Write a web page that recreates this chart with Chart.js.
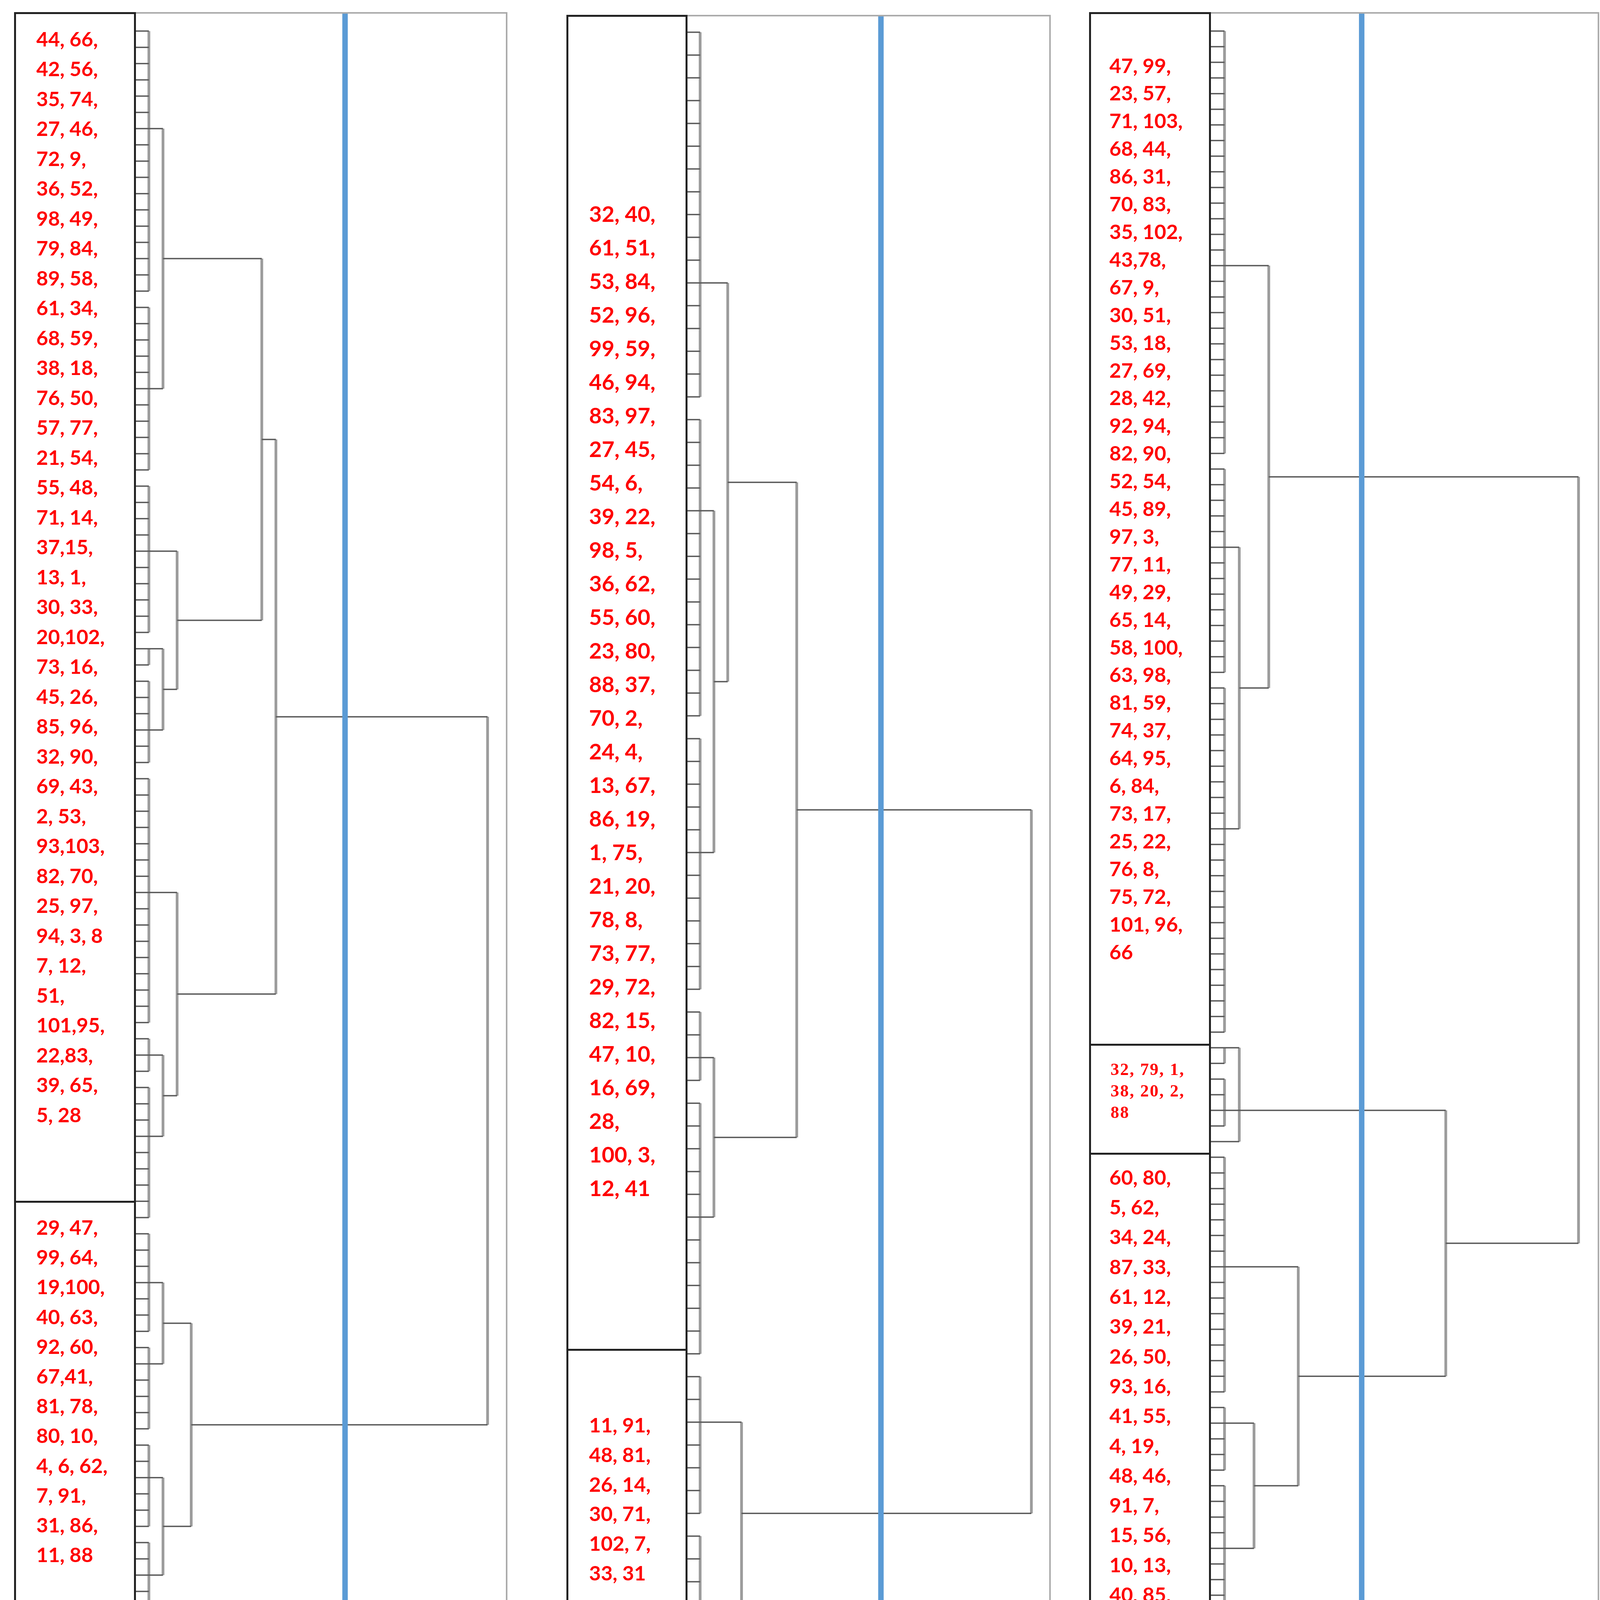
<!DOCTYPE html>
<html>
<head>
<meta charset="utf-8">
<script src="https://cdn.jsdelivr.net/npm/chart.js"></script>
<style>
  body { margin: 0; background: #fff; }
  #page { position: relative; width: 4135px; height: 4451px; overflow: hidden; background: #fff; }
  canvas { position: absolute; }
  .frame { position: absolute; box-sizing: border-box; border: 4px solid #ababab; }
  .box { position: absolute; box-sizing: border-box; border: 5px solid #222; }
  .labels { position: absolute; color: #ff0000; white-space: pre; }
  .name { position: absolute; font-family: "Liberation Serif", serif; font-size: 72px; color: #222; transform: translate(-50%, -50%); }
</style>
</head>
<body>
<div id="page"></div>
<script>
// leaf groups joined at the first level (top to bottom), and the leaf where each group's link leaves
const aGroupSizes = [17, 11, 10, 2, 6, 16, 3, 9, 7, 6, 6, 6];
const aGroupJoins = [6, 5, 4, 0, 3, 7, 1, 3, 3, 1, 2, 2];
// [node, node, rescaled distance] - node ids after the groups are earlier merges
const aMerges = [[0, 1, 2], [3, 4, 2], [2, 13, 3], [12, 14, 9], [6, 7, 2], [5, 16, 3],
                 [15, 17, 10], [8, 9, 2], [10, 11, 2], [19, 20, 4], [18, 21, 25]];
const aCut = 14.9;

const bGroupSizes = [17, 14, 12, 4, 12, 7, 5];
const bGroupJoins = [11, 4, 5, 2, 5, 2, 3];
const bMerges = [[1, 2, 2], [0, 7, 3], [3, 4, 2], [8, 9, 8], [5, 6, 4], [10, 11, 25]];
const bCut = 14.1;

const cGroupSizes = [28, 14, 23, 2, 4, 1, 16, 5, 10];
const cGroupJoins = [15, 5, 9, 0, 2, 0, 7, 1, 4];
const cMerges = [[1, 2, 2], [0, 9, 4], [3, 4, 2], [11, 5, 2], [7, 8, 3], [6, 13, 6],
                 [12, 14, 16], [10, 15, 25]];
const cCut = 10.3;

const aTopLabels = ["44, 66,", "42, 56,", "35, 74,", "27, 46,", "72, 9,", "36, 52,", "98, 49,", "79, 84,",
  "89, 58,", "61, 34,", "68, 59,", "38, 18,", "76, 50,", "57, 77,", "21, 54,", "55, 48,", "71, 14,",
  "37,15,", "13, 1,", "30, 33,", "20,102,", "73, 16,", "45, 26,", "85, 96,", "32, 90,", "69, 43,",
  "2, 53,", "93,103,", "82, 70,", "25, 97,", "94, 3, 8", "7, 12,", "51,", "101,95,", "22,83,",
  "39, 65,", "5, 28"];
const aBottomLabels = ["29, 47,", "99, 64,", "19,100,", "40, 63,", "92, 60,", "67,41,", "81, 78,",
  "80, 10,", "4, 6, 62,", "7, 91,", "31, 86,", "11, 88"];
const bTopLabels = ["32, 40,", "61, 51,", "53, 84,", "52, 96,", "99, 59,", "46, 94,", "83, 97,",
  "27, 45,", "54, 6,", "39, 22,", "98, 5,", "36, 62,", "55, 60,", "23, 80,", "88, 37,", "70, 2,",
  "24, 4,", "13, 67,", "86, 19,", "1, 75,", "21, 20,", "78, 8,", "73, 77,", "29, 72,", "82, 15,",
  "47, 10,", "16, 69,", "28,", "100, 3,", "12, 41"];
const bBottomLabels = ["11, 91,", "48, 81,", "26, 14,", "30, 71,", "102, 7,", "33, 31"];
const cTopLabels = ["47, 99,", "23, 57,", "71, 103,", "68, 44,", "86, 31,", "70, 83,", "35, 102,",
  "43,78,", "67, 9,", "30, 51,", "53, 18,", "27, 69,", "28, 42,", "92, 94,", "82, 90,", "52, 54,",
  "45, 89,", "97, 3,", "77, 11,", "49, 29,", "65, 14,", "58, 100,", "63, 98,", "81, 59,", "74, 37,",
  "64, 95,", "6, 84,", "73, 17,", "25, 22,", "76, 8,", "75, 72,", "101, 96,", "66"];
const cMiddleLabels = ["32, 79, 1,", "38, 20, 2,", "88"];
const cBottomLabels = ["60, 80,", "5, 62,", "34, 24,", "87, 33,", "61, 12,", "39, 21,", "26, 50,",
  "93, 16,", "41, 55,", "4, 19,", "48, 46,", "91, 7,", "15, 56,", "10, 13,", "40, 85,", "36"];

const panelNames = ["A", "B", "C"];

const page = document.getElementById("page");

function buildTree(sizes, joins, merges) {
    const nodes = [];
    const across = [];
    const down = [];
    let start = 0;
    sizes.forEach((n, g) => {
        for (let i = 0; i < n; i++) across.push([0, start + i, 1, start + i]);
        if (n > 1) down.push([1, start, 1, start + n - 1]);
        nodes.push({ y: start + joins[g], h: 1 });
        start += n;
    });
    merges.forEach(([a, b, h]) => {
        const p = nodes[a];
        const q = nodes[b];
        across.push([p.h, p.y, h, p.y], [q.h, q.y, h, q.y]);
        down.push([h, p.y, h, q.y]);
        nodes.push({ y: (p.y + q.y) / 2, h: h });
    });
    return { across, down };
}

function toPoints(segs) {
    const pts = [];
    segs.forEach(s => pts.push({ x: s[0], y: s[1] }, { x: s[2], y: s[3] }, { x: null, y: null }));
    return pts;
}

function addDiv(cls, left, top, width, height) {
    const d = document.createElement("div");
    d.className = cls;
    d.style.left = left + "px";
    d.style.top = top + "px";
    if (width) d.style.width = width + "px";
    if (height) d.style.height = height + "px";
    page.appendChild(d);
    return d;
}

function drawPanel(p) {
    const w = p.rect[2] - p.rect[0];
    const h = p.rect[3] - p.rect[1];
    const canvas = document.createElement("canvas");
    canvas.width = w;
    canvas.height = h;
    canvas.style.left = p.rect[0] + "px";
    canvas.style.top = p.rect[1] + "px";
    canvas.style.width = w + "px";
    canvas.style.height = h + "px";
    page.appendChild(canvas);

    const tree = buildTree(p.sizes, p.joins, p.merges);
    const common = { showLine: true, pointRadius: 0, clip: false, spanGaps: false, borderCapStyle: "butt" };
    new Chart(canvas, {
        type: "scatter",
        data: {
            datasets: [
                { data: [{ x: p.cut, y: p.y[0] }, { x: p.cut, y: p.y[1] }], borderColor: "#5b9bd5", borderWidth: 14, order: 0 },
                { data: toPoints(tree.across), borderColor: "#5a5a5a", borderWidth: 3.5, order: 1 },
                { data: toPoints(tree.down), borderColor: "#9c9c9c", borderWidth: 7, order: 2 }
            ].map(d => Object.assign({}, common, d))
        },
        options: {
            responsive: false,
            animation: false,
            devicePixelRatio: 1,
            events: [],
            layout: { padding: 0 },
            plugins: { legend: { display: false }, tooltip: { enabled: false } },
            scales: {
                x: { type: "linear", display: false, min: 0, max: 26.35 },
                y: { type: "linear", display: false, min: p.y[0], max: p.y[1], reverse: true }
            }
        }
    });

    addDiv("frame", p.rect[0] - 2, p.rect[1] - 2, w + 4, h + 4);
    for (let i = 0; i < p.boxY.length - 1; i++) {
        addDiv("box", p.boxX[0] - 2.5, p.boxY[i] - 2.5, p.boxX[1] - p.boxX[0] + 5, p.boxY[i + 1] - p.boxY[i] + 5);
    }
    p.texts.forEach(t => {
        const d = addDiv("labels", t.left, t.center - t.lh / 2);
        d.style.fontFamily = t.serif ? '"Liberation Serif", serif' : 'Lato, "Noto Sans", sans-serif';
        d.style.fontWeight = "700";
        d.style.fontSize = t.size + "px";
        d.style.lineHeight = t.lh + "px";
        if (t.spacing) d.style.letterSpacing = t.spacing + "px";
        d.textContent = t.lines.join("\n");
    });
    const n = addDiv("name", p.nameX, 4384);
    n.textContent = p.name;
}

const panels = [
    { name: panelNames[0], nameX: 748, sizes: aGroupSizes, joins: aGroupJoins, merges: aMerges, cut: aCut,
      rect: [345, 33, 1297, 4200], y: [-1.12, 99.03], boxX: [38, 345], boxY: [33, 3076, 4195],
      texts: [{ lines: aTopLabels, left: 93, center: 99, lh: 76.5, size: 52 },
              { lines: aBottomLabels, left: 93, center: 3141, lh: 76.2, size: 52 }] },
    { name: panelNames[1], nameX: 2214, sizes: bGroupSizes, joins: bGroupJoins, merges: bMerges, cut: bCut,
      rect: [1757, 40, 2688, 4209], y: [-0.73, 70.74], boxX: [1452, 1757], boxY: [40, 3455, 4202],
      texts: [{ lines: bTopLabels, left: 1508, center: 547, lh: 86, size: 56 },
              { lines: bBottomLabels, left: 1508, center: 3648, lh: 75.8, size: 52 }] },
    { name: panelNames[2], nameX: 3364, sizes: cGroupSizes, joins: cGroupJoins, merges: cMerges, cut: cCut,
      rect: [3097, 33, 4092, 4212], y: [-1.16, 103.2], boxX: [2790, 3097], boxY: [33, 2674, 2953, 4206],
      texts: [{ lines: cTopLabels, left: 2840, center: 167, lh: 70.9, size: 52 },
              { lines: cMiddleLabels, left: 2843, center: 2737, lh: 55, size: 44, spacing: 2.5, serif: true },
              { lines: cBottomLabels, left: 2840, center: 3013, lh: 76.3, size: 52 }] }
];

panels.forEach(drawPanel);
</script>
</body>
</html>
